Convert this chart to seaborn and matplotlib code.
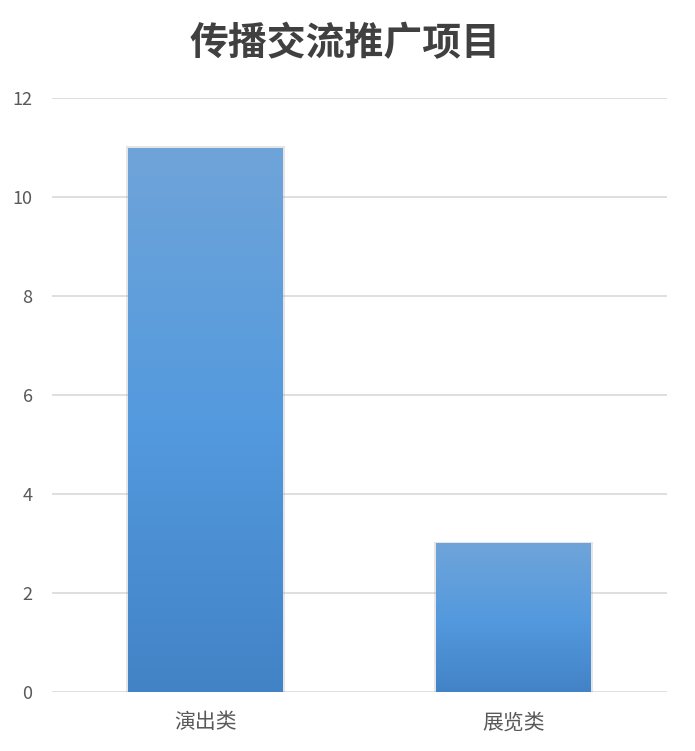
import numpy as np
import pandas as pd
import matplotlib
matplotlib.use('Agg')
import matplotlib.pyplot as plt
import seaborn as sns
from matplotlib.colors import LinearSegmentedColormap

# Données
categories = ['演出类', '展览类']
values = [11, 3]
title = '传播交流推广项目'

sns.set_theme(style="whitegrid")
plt.rcParams['font.family'] = ['Noto Sans CJK SC', 'DejaVu Sans']

df = pd.DataFrame({'cat': categories, 'val': values})

fig = plt.figure(figsize=(6.95, 7.51), dpi=100)
ax = fig.add_axes([0.0748, 0.0786, 0.8849, 0.7909])

sns.barplot(data=df, x='cat', y='val', color='#5b9bd5', width=0.504, ax=ax,
            saturation=1, edgecolor='none')

# dégradé vertical sur chaque barre
cmap = LinearSegmentedColormap.from_list('g', ['#4283c6', '#549ade', '#6fa4d9'])
grad = np.linspace(0, 1, 256).reshape(-1, 1)
for p in ax.patches:
    x0, y0 = p.get_x(), p.get_y()
    w, h = p.get_width(), p.get_height()
    # ombre légère autour de la barre
    ax.add_patch(plt.Rectangle((x0 - 0.006, y0), w + 0.012, h + 0.03,
                               facecolor='#9a9a9a', alpha=0.25, zorder=1.5, lw=0))
    im = ax.imshow(grad, extent=(x0, x0 + w, y0, y0 + h), origin='lower',
                   cmap=cmap, aspect='auto', zorder=2)
    im.set_clip_path(p)
    p.set_zorder(2)

ax.set_xlim(-0.5, 1.5)
ax.set_ylim(0, 12)
ax.set_yticks(range(0, 13, 2))
ax.grid(axis='y', color='#d9d9d9', linewidth=1.2)
ax.grid(axis='x', visible=False)
ax.set_axisbelow(True)
for s in ax.spines.values():
    s.set_visible(False)
ax.set_xlabel('')
ax.set_ylabel('')
ax.tick_params(axis='y', labelsize=13, labelcolor='#595959', pad=14, length=0)
ax.tick_params(axis='x', labelsize=15, labelcolor='#595959', pad=14, length=0)

fig.text(0.497, 0.942, title, ha='center', va='center', fontsize=28,
         fontweight='bold', color='#404040')

fig.savefig('out.png', dpi=100)
